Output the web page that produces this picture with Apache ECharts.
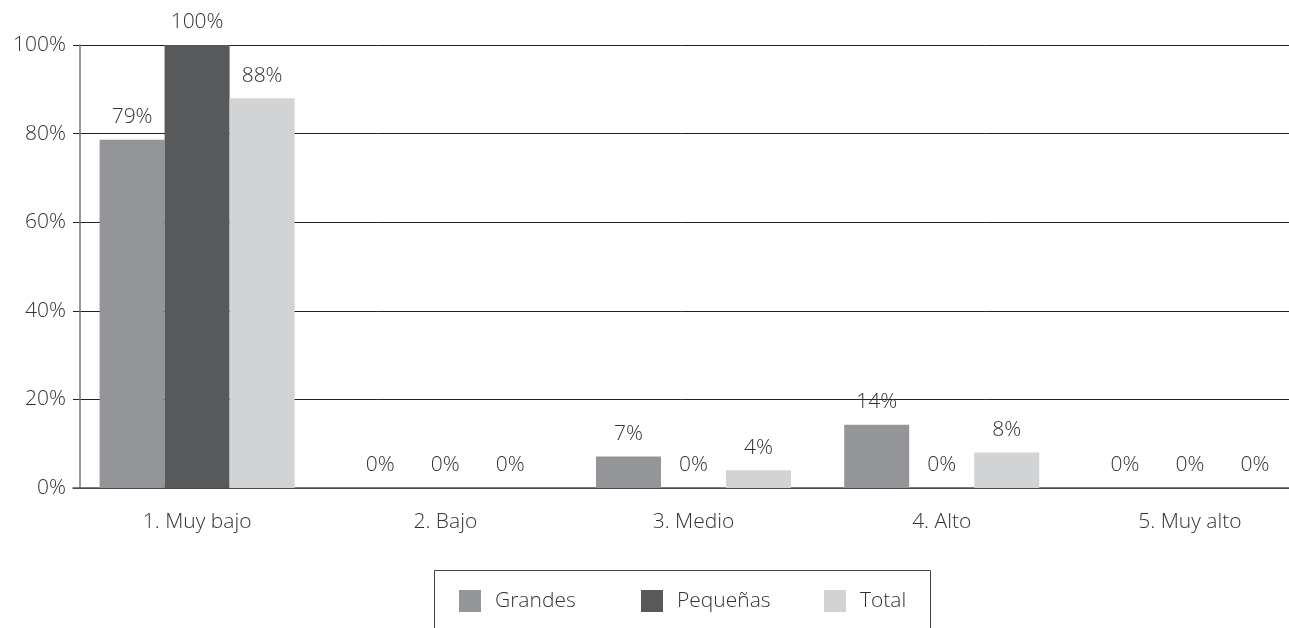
<!DOCTYPE html>
<html>
<head>
<meta charset="utf-8">
<script src="https://cdn.jsdelivr.net/npm/echarts@6/dist/echarts.min.js"></script>
<style>
  html, body { margin: 0; padding: 0; background: #fff; }
  #chart { width: 1289px; height: 628px; }
</style>
</head>
<body>
<div id="chart"></div>
<script>
const categories = ["1. Muy bajo", "2. Bajo", "3. Medio", "4. Alto", "5. Muy alto"];
const seriesNames = ["Grandes", "Pequeñas", "Total"];
const grandes = [78.6, 0, 7.1, 14.3, 0];
const pequenas = [100, 0, 0, 0, 0];
const total = [88, 0, 4, 8, 0];
const yTicks = [0, 20, 40, 60, 80, 100];

const font = "'Open Sans', 'Noto Sans', sans-serif";
const textColor = "#333";
const colors = ["#939598", "#58595b", "#d1d3d4"];
const legendLeft = [459, 641, 824];

const labelOpt = {
  show: true,
  position: "top",
  distance: 12,
  fontFamily: font,
  fontWeight: 300,
  fontSize: 21,
  color: textColor,
  formatter: p => Math.round(p.value) + "%"
};

function bar(name, data, color) {
  return {
    name: name,
    type: "bar",
    data: data,
    barWidth: 65,
    barGap: "0%",
    itemStyle: { color: color },
    label: labelOpt
  };
}

const chart = echarts.init(document.getElementById("chart"));
chart.setOption({
  animation: false,
  textStyle: { fontFamily: font },
  grid: { left: 73, top: 45, right: -25, bottom: 140, outerBoundsMode: "none" },
  legend: seriesNames.map((n, i) => ({
    left: legendLeft[i],
    top: 590,
    padding: 0,
    itemWidth: 22,
    itemHeight: 22,
    icon: "rect",
    textStyle: {
      fontFamily: font,
      fontWeight: 300,
      fontSize: 21,
      color: textColor,
      padding: [0, 0, 0, 9]
    },
    data: [n]
  })),
  graphic: [{
    type: "rect",
    shape: { x: 434.5, y: 570.5, width: 496, height: 120 },
    style: { fill: "none", stroke: "#444", lineWidth: 1 },
    silent: true
  }],
  xAxis: {
    type: "category",
    data: categories,
    axisLine: { lineStyle: { color: "#555", width: 1.5 } },
    axisTick: { show: false },
    axisLabel: { fontFamily: font, fontWeight: 300, fontSize: 21, color: textColor, margin: 24 }
  },
  yAxis: {
    type: "value",
    min: 0,
    max: 100,
    interval: 20,
    offset: -7,
    axisLine: { show: true, lineStyle: { color: "#777", width: 1.5 } },
    axisTick: { show: false },
    splitLine: { lineStyle: { color: "#222", width: 1 } },
    axisLabel: {
      fontFamily: font,
      fontWeight: 300,
      fontSize: 21,
      color: textColor,
      margin: 14,
      formatter: v => (yTicks.includes(v) ? v + "%" : "")
    }
  },
  series: [
    bar(seriesNames[0], grandes, colors[0]),
    bar(seriesNames[1], pequenas, colors[1]),
    bar(seriesNames[2], total, colors[2])
  ]
});
</script>
</body>
</html>
